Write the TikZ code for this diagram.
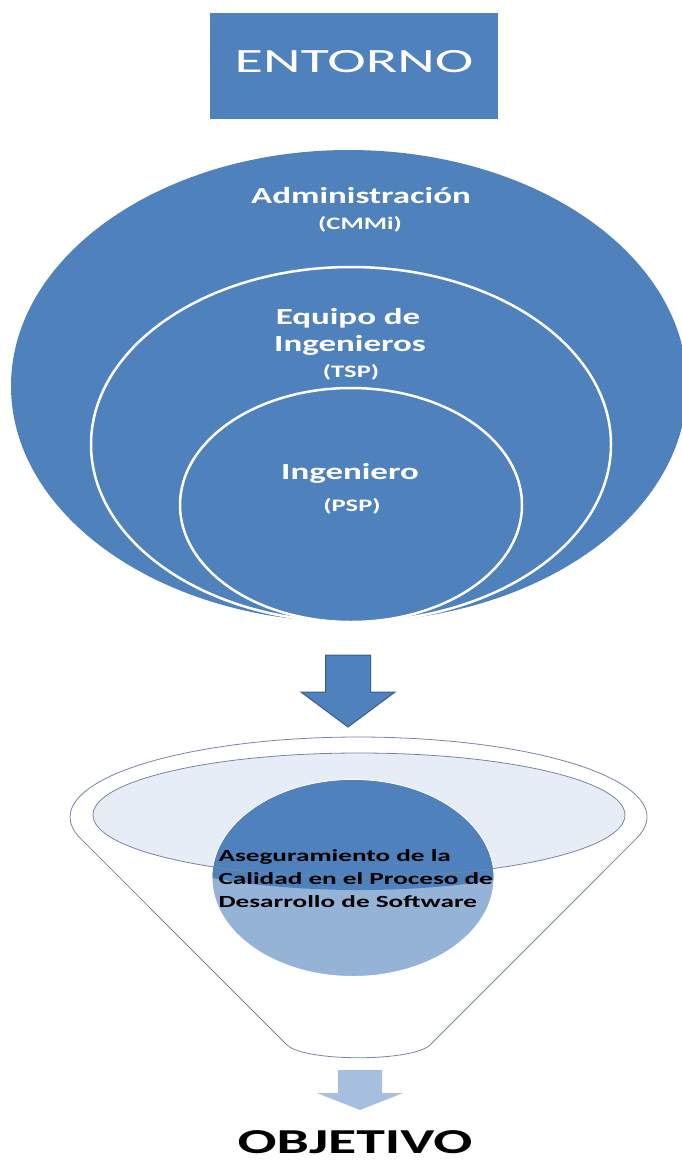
\documentclass[tikz,border=0pt]{standalone}
\usepackage{fontspec}
\setmainfont{Carlito}
\usepackage{graphicx}
\usetikzlibrary{shapes.geometric,positioning}
\definecolor{officeblue}{RGB}{79,129,189}
\definecolor{arrowedge}{RGB}{56,93,138}
\definecolor{paleblue}{RGB}{149,179,215}
\definecolor{mouthfill}{RGB}{231,237,246}
\definecolor{funnelline}{RGB}{118,134,160}
\definecolor{lightarrow}{RGB}{167,191,222}
\newcommand{\wide}[2][1.52]{\scalebox{#1}[1]{#2}}

\begin{document}
\begin{tikzpicture}[x=1pt,y=-1pt,
          ring/.style={ellipse,fill=officeblue,draw=white,line width=2.5pt,
            inner sep=0pt,outer sep=0pt},
          ringtext/.style={text=white,font=\bfseries\fontsize{23}{27}\selectfont},
          tagtext/.style={text=white,font=\bfseries\fontsize{17.5}{20}\selectfont},
          blockarrow/.style={fill=officeblue,draw=arrowedge,line width=1pt,line join=miter},
          funnelbody/.style={fill=white,draw=funnelline,line width=0.8pt}]
          \useasboundingbox (0,0) rectangle (682,1160);
          \node[rectangle,fill=officeblue,minimum width=288pt,minimum height=106pt,
            text=white,text depth=10pt,font=\fontsize{34}{40}\selectfont] (entorno)
            at (354,66) {\wide[1.71]{ENTORNO}};
          \node[ring,draw=none,minimum width=676pt,minimum height=472pt] (admin) at (349,386) {};
          \node[ring,minimum width=520pt,minimum height=355pt] (equipo) at (351,444.5) {};
          \node[ring,minimum width=342pt,minimum height=234pt] (ingeniero) at (351,505) {};
          \node[ringtext] (admintxt) at (361,196) {\wide{Administración}};
          \node[tagtext] (cmmi) at (360,224) {\wide{(CMMi)}};
          \node[ringtext] (equipotxt) at (348,318) {\wide{Equipo de}};
          \node[ringtext] (ingenierostxt) at (350,345) {\wide{Ingenieros}};
          \node[tagtext] (tsp) at (351,372) {\wide{(TSP)}};
          \node[ringtext] (ingenierotxt) at (350,473) {\wide{Ingeniero}};
          \node[tagtext] (psp) at (352,506) {\wide{(PSP)}};
          \draw[blockarrow] (325.5,655) -- (370.5,655) -- (370.5,692) -- (395,692)
            -- (348,727) -- (301,692) -- (325.5,692) -- cycle;
          \draw[funnelbody] (636.5,838.4) arc[start angle=15.5,end angle=-195.5,
            x radius=288.5,y radius=80] -- (287,1045)
            .. controls (305,1062) and (412,1062) .. (430,1045) -- cycle;
          \node[ellipse,fill=mouthfill,minimum width=532pt,minimum height=124pt,
            inner sep=0pt] (boca) at (359,815) {};
          \node[ellipse,fill=paleblue,draw=white,line width=1pt,minimum width=282pt,
            minimum height=197pt,inner sep=0pt] (nucleo) at (353,878) {};
          \begin{scope}
            \clip (359,818) ellipse [x radius=266,y radius=72];
            \fill[officeblue] (353,878) ellipse [x radius=140.5,y radius=98];
          \end{scope}
          \draw[funnelline,line width=0.8pt] (boca.center) ellipse [x radius=266,y radius=62];
          \node[anchor=west,text=black,font=\bfseries\fontsize{17}{23}\selectfont] (calidad)
            at (215,880) {\wide[1.6]{\begin{tabular}{@{}l@{}}Aseguramiento de la\\
            Calidad en el Proceso de\\Desarrollo de Software\end{tabular}}};
          \fill[lightarrow] (338,1070) -- (382,1070) -- (382,1093) -- (403,1093)
            -- (360,1110) -- (317,1093) -- (338,1093) -- cycle;
          \node[text=black,font=\bfseries\fontsize{35}{40}\selectfont] (objetivo)
            at (355,1142) {\wide[1.65]{OBJETIVO}};
        \end{tikzpicture}
\end{document}
